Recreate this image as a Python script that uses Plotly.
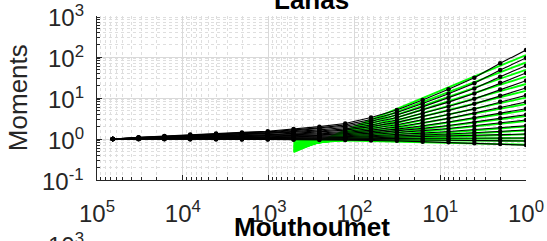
import math
import plotly.graph_objects as go

# scales (x) ordered from finest (1) to coarsest (65536)
scales = [1, 2, 4, 8, 16, 32, 64, 128, 256, 512, 1024, 2048, 4096, 8192, 16384, 32768, 65536]

# normalised moments, one list per moment order
m01 = [147.9, 70.1, 31.3, 16.3, 8.93, 5.09, 3.34, 2.39, 2.00, 1.75, 1.55, 1.45, 1.36, 1.28, 1.19, 1.10, 1.0]
m02 = [94.6, 48.0, 23.0, 12.7, 7.35, 4.41, 3.00, 2.21, 1.87, 1.67, 1.49, 1.41, 1.33, 1.26, 1.17, 1.09, 1.0]
m03 = [61.4, 33.2, 17.1, 9.98, 6.08, 3.83, 2.70, 2.05, 1.77, 1.59, 1.44, 1.37, 1.30, 1.24, 1.15, 1.08, 1.0]
m04 = [40.7, 23.4, 12.9, 7.93, 5.08, 3.35, 2.45, 1.91, 1.67, 1.52, 1.39, 1.33, 1.27, 1.21, 1.14, 1.07, 1.0]
m05 = [26.4, 16.2, 9.53, 6.22, 4.20, 2.90, 2.20, 1.77, 1.57, 1.45, 1.33, 1.28, 1.23, 1.18, 1.12, 1.06, 1.0]
m06 = [17.5, 11.4, 7.19, 4.94, 3.51, 2.54, 2.00, 1.65, 1.49, 1.38, 1.28, 1.24, 1.20, 1.16, 1.10, 1.05, 1.0]
m07 = [11.6, 8.05, 5.42, 3.94, 2.93, 2.22, 1.81, 1.53, 1.40, 1.32, 1.24, 1.20, 1.17, 1.13, 1.09, 1.05, 1.0]
m08 = [7.98, 5.86, 4.19, 3.19, 2.49, 1.97, 1.65, 1.44, 1.33, 1.26, 1.20, 1.17, 1.14, 1.11, 1.07, 1.04, 1.0]
m09 = [5.48, 4.26, 3.24, 2.59, 2.11, 1.74, 1.51, 1.35, 1.26, 1.21, 1.16, 1.13, 1.11, 1.09, 1.06, 1.03, 1.0]
m10 = [3.92, 3.19, 2.56, 2.14, 1.82, 1.56, 1.39, 1.27, 1.21, 1.17, 1.13, 1.11, 1.09, 1.07, 1.05, 1.03, 1.0]
m11 = [2.90, 2.47, 2.08, 1.81, 1.60, 1.42, 1.29, 1.20, 1.16, 1.13, 1.10, 1.08, 1.07, 1.06, 1.04, 1.02, 1.0]
m12 = [2.11, 1.88, 1.67, 1.52, 1.39, 1.27, 1.20, 1.14, 1.11, 1.09, 1.07, 1.06, 1.05, 1.04, 1.03, 1.02, 1.0]
m13 = [1.66, 1.53, 1.42, 1.32, 1.25, 1.18, 1.13, 1.09, 1.07, 1.06, 1.05, 1.04, 1.03, 1.03, 1.02, 1.01, 1.0]
m14 = [1.32, 1.27, 1.21, 1.17, 1.13, 1.10, 1.07, 1.05, 1.04, 1.03, 1.03, 1.02, 1.02, 1.02, 1.01, 1.01, 1.0]
m15 = [1.06, 1.05, 1.04, 1.03, 1.02, 1.02, 1.01, 1.01, 1.01, 1.01, 1.00, 1.00, 1.00, 1.00, 1.00, 1.00, 1.0]
m16 = [0.89, 0.91, 0.92, 0.94, 0.95, 0.96, 0.97, 0.98, 0.98, 0.99, 0.99, 0.99, 0.99, 0.99, 1.00, 1.00, 1.0]
m17 = [0.71, 0.75, 0.79, 0.83, 0.86, 0.90, 0.92, 0.94, 0.95, 0.96, 0.97, 0.97, 0.98, 0.98, 0.99, 0.99, 1.0]
moments = [m01, m02, m03, m04, m05, m06, m07, m08, m09, m10, m11, m12, m13, m14, m15, m16, m17]

# power-law fits (green), drawn between these two scales
fit_scales = [512, 1]
fit_at_512 = [0.48, 0.50, 0.52, 0.53, 0.55, 0.58, 0.60, 0.63, 0.65, 0.68, 0.71, 0.75, 0.79, 0.84, 0.93, 0.97, 0.98]
fit_at_1 = [112, 73.6, 48.9, 33.2, 22.0, 15.0, 10.2, 7.13, 5.0, 3.63, 2.73, 2.02, 1.61, 1.30, 1.05, 0.90, 0.73]

x_tickvals = [1e5, 1e4, 1e3, 1e2, 1e1, 1e0]
x_ticktext = ["10<sup>5</sup>", "10<sup>4</sup>", "10<sup>3</sup>", "10<sup>2</sup>", "10<sup>1</sup>", "10<sup>0</sup>"]
y_tickvals = [1e-1, 1e0, 1e1, 1e2, 1e3]
y_ticktext = ["10<sup>-1</sup>", "10<sup>0</sup>", "10<sup>1</sup>", "10<sup>2</sup>", "10<sup>3</sup>"]

FONT = "Liberation Sans, Arial, Helvetica, sans-serif"
AX = "#262626"

fig = go.Figure()
for a, b in zip(fit_at_512, fit_at_1):
    fig.add_trace(go.Scatter(x=fit_scales, y=[a, b], mode="lines",
                             line=dict(color="#00ff00", width=1.8),
                             showlegend=False, hoverinfo="skip"))
for m in moments:
    fig.add_trace(go.Scatter(x=scales, y=m, mode="lines+markers",
                             line=dict(color="black", width=1.1),
                             marker=dict(color="black", size=4.5),
                             showlegend=False))

minor_x = [d * 10 ** e for e in range(0, 5) for d in range(2, 10)]
minor_y = [d * 10 ** e for e in range(-1, 3) for d in range(2, 10)]

annotations = [
    dict(text="Moments", textangle=-90, x=-0.185, y=0.503, xref="paper", yref="paper",
         xanchor="center", yanchor="middle", showarrow=False,
         font=dict(size=26, color=AX, family=FONT)),
    dict(text="<b>Lanas</b>", x=0.5, y=1.10, xref="paper", yref="paper",
         xanchor="center", yanchor="middle", showarrow=False,
         font=dict(size=26, color="black", family=FONT)),
    dict(text="<b>Mouthoumet</b>", x=0.5, y=-0.286, xref="paper", yref="paper",
         xanchor="center", yanchor="middle", showarrow=False,
         font=dict(size=26, color="black", family=FONT)),
    dict(text="10<sup>3</sup>", x=-0.026, y=-0.39, xref="paper", yref="paper",
         xanchor="right", yanchor="middle", showarrow=False,
         font=dict(size=24, color=AX, family=FONT)),
]
for v, t in zip(y_tickvals, y_ticktext):
    annotations.append(dict(text=t, x=-0.026, y=math.log10(v), xref="paper", yref="y",
                            xanchor="right", yanchor="middle", showarrow=False,
                            font=dict(size=24, color=AX, family=FONT)))

fig.update_layout(
    width=547, height=241,
    margin=dict(l=97, r=21, t=16, b=61, autoexpand=False),
    paper_bgcolor="white", plot_bgcolor="white",
    font=dict(family=FONT, color=AX),
    xaxis=dict(type="log", range=[5.0001, -0.0001], tickmode="array", tickvals=x_tickvals,
               ticktext=x_ticktext, tickfont=dict(size=24, color=AX),
               showline=True, linecolor=AX, linewidth=1, ticks="inside",
               ticklen=5, tickcolor=AX, showgrid=True, gridcolor="#d9d9d9",
               gridwidth=1, zeroline=False, ticklabelstandoff=12, automargin=False,
               ticklabeloverflow="allow",
               minor=dict(tickmode="array", tickvals=minor_x, ticks="inside",
                          ticklen=3, tickcolor=AX, showgrid=True,
                          gridcolor="#dedede", griddash="dot", gridwidth=1)),
    yaxis=dict(type="log", range=[-1.0001, 3.0001], tickmode="array", tickvals=y_tickvals,
               showticklabels=False,
               showline=True, linecolor=AX, linewidth=1, ticks="inside",
               ticklen=5, tickcolor=AX, showgrid=True, gridcolor="#d9d9d9",
               gridwidth=1, zeroline=False, automargin=False,
               minor=dict(tickmode="array", tickvals=minor_y, ticks="inside",
                          ticklen=3, tickcolor=AX, showgrid=True,
                          gridcolor="#dedede", griddash="dot", gridwidth=1)),
    annotations=annotations,
)

fig.write_html("out.html", config={"displayModeBar": False},
               post_script="document.body.style.margin='0';document.body.style.overflow='hidden';")
